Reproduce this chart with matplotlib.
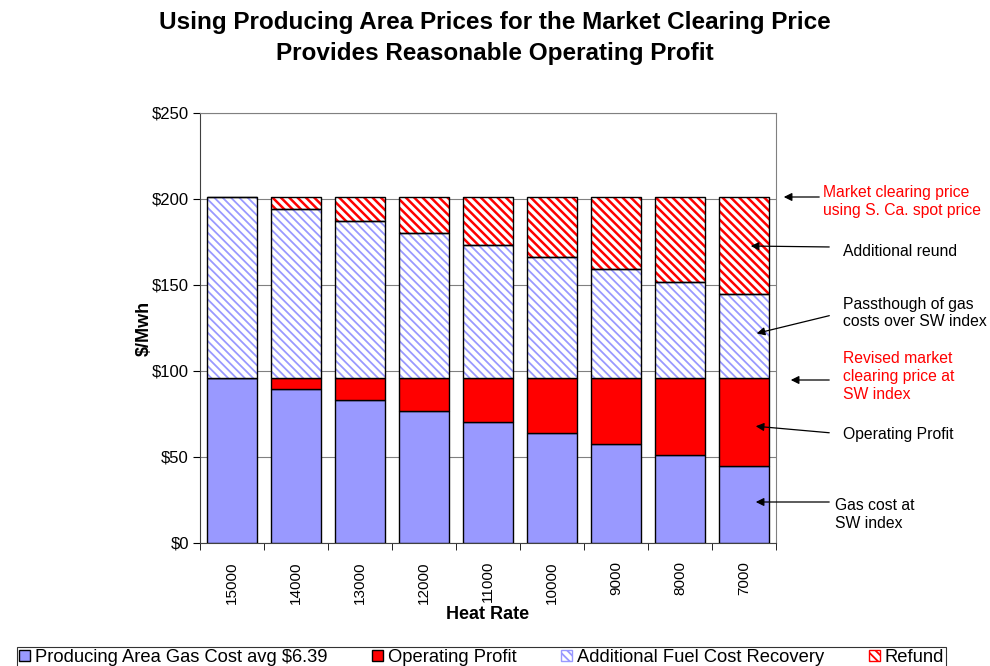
import matplotlib.pyplot as plt
import numpy as np
from matplotlib.patches import Patch

# datos
heat_rate = ['15000', '14000', '13000', '12000', '11000', '10000', '9000', '8000', '7000']
gas_cost = [95.85, 89.46, 83.07, 76.68, 70.29, 63.90, 57.51, 51.12, 44.73]
op_profit = [0.00, 6.39, 12.78, 19.17, 25.56, 31.95, 38.34, 44.73, 51.12]
add_fuel = [105.30, 98.28, 91.26, 84.24, 77.22, 70.20, 63.18, 56.16, 49.14]
refund = [0.00, 7.02, 14.04, 21.06, 28.08, 35.10, 42.12, 49.14, 56.16]

azul = '#9999FF'
rojo = '#FF0000'

plt.rcParams['font.family'] = ['Liberation Sans', 'DejaVu Sans']

fig = plt.figure(figsize=(9.9, 6.66), dpi=100)
ax = fig.add_axes([200/990, 1-543/666, 576/990, 430/666])

x = np.arange(len(heat_rate))
w = 0.77
gas_cost = np.array(gas_cost)
op_profit = np.array(op_profit)
add_fuel = np.array(add_fuel)
refund = np.array(refund)

b1 = gas_cost
b2 = b1 + op_profit
b3 = b2 + add_fuel

ax.bar(x, gas_cost, w, color=azul, edgecolor='black', linewidth=1, zorder=3)
ax.bar(x, op_profit, w, bottom=b1, color=rojo, edgecolor='black', linewidth=1, zorder=3)
# rayados: primero el relleno con el color del rayado, luego el borde negro
plt.rcParams['hatch.linewidth'] = 1.3
ax.bar(x, add_fuel, w, bottom=b2, color='white', edgecolor=azul, hatch='\\\\\\\\', linewidth=0, zorder=3)
ax.bar(x, add_fuel, w, bottom=b2, fill=False, edgecolor='black', linewidth=1, zorder=4)
plt.rcParams['hatch.linewidth'] = 1.8
ax.bar(x, refund, w, bottom=b3, color='white', edgecolor=rojo, hatch='\\\\\\\\', linewidth=0, zorder=3)
ax.bar(x, refund, w, bottom=b3, fill=False, edgecolor='black', linewidth=1, zorder=4)

ax.set_xlim(-0.5, len(heat_rate) - 0.5)
ax.set_ylim(0, 250)
ax.set_yticks([0, 50, 100, 150, 200, 250])
ax.set_yticklabels(['$0', '$50', '$100', '$150', '$200', '$250'], fontsize=12)
ax.set_xticks(x)
ax.set_xticklabels(heat_rate, rotation=90, fontsize=11)
ax.tick_params(axis='x', length=0, pad=13)
ax.set_xticks(np.arange(len(heat_rate) + 1) - 0.5, minor=True)
ax.tick_params(axis='x', which='minor', length=5, direction='out')
ax.tick_params(axis='y', length=5, direction='out', pad=3)
ax.grid(axis='y', color='#808080', linewidth=0.8, zorder=0)

for s in ['top', 'right']:
    ax.spines[s].set_color('#808080')
ax.spines['left'].set_color('#404040')
ax.spines['bottom'].set_color('#404040')

ax.set_ylabel('$/Mwh', fontsize=13, fontweight='bold', labelpad=-1)
ax.set_xlabel('Heat Rate', fontsize=13, fontweight='bold', labelpad=2)

fig.suptitle('Using Producing Area Prices for the Market Clearing Price\nProvides Reasonable Operating Profit',
             fontsize=17.5, fontweight='bold', y=0.983, linespacing=1.4)

# anotaciones
def px(xp, yp):
    return (xp/990, 1 - yp/666)

notas = [
    ('Market clearing price\nusing S. Ca. spot price', 'red', (823, 201), (822, 197), (781, 197)),
    ('Additional reund', 'black', (843, 251), (832, 247), (748, 246)),
    ('Passthough of gas\ncosts over SW index', 'black', (843, 313), (832, 315), (754, 334)),
    ('Revised market\nclearing price at\nSW index', 'red', (843, 377), (832, 380), (788, 380)),
    ('Operating Profit', 'black', (843, 435), (832, 433), (753, 426)),
    ('Gas cost at\nSW index', 'black', (835, 515), (832, 502), (753, 502)),
]
for texto, col, pt, ini, fin in notas:
    fig.text(*px(*pt), texto, color=col, fontsize=11.3, ha='left', va='center', linespacing=1.25)
    ax.annotate('', xy=px(*fin), xytext=px(*ini), xycoords='figure fraction', textcoords='figure fraction',
                arrowprops=dict(arrowstyle='-|>', color='black', lw=0.9, mutation_scale=12), annotation_clip=False)

plt.rcParams['hatch.linewidth'] = 1.3
handles = [
    Patch(facecolor=azul, edgecolor='black', label='Producing Area Gas Cost avg $6.39'),
    Patch(facecolor=rojo, edgecolor='black', label='Operating Profit'),
    Patch(facecolor='white', edgecolor=azul, hatch='\\\\\\\\', label='Additional Fuel Cost Recovery'),
    Patch(facecolor='white', edgecolor=rojo, hatch='\\\\\\\\', label='Refund'),
]
leg = fig.legend(handles=handles, loc='upper left', bbox_to_anchor=(8/990, 0.0, 947/990, 1-638/666),
                 mode='expand', ncol=4, fontsize=13.2, frameon=True, fancybox=False,
                 edgecolor='black', handlelength=0.6, handleheight=0.6, handletextpad=0.25,
                 borderpad=0.1, columnspacing=1.0)
leg.get_frame().set_linewidth(0.8)

plt.savefig('out.png', dpi=100)
